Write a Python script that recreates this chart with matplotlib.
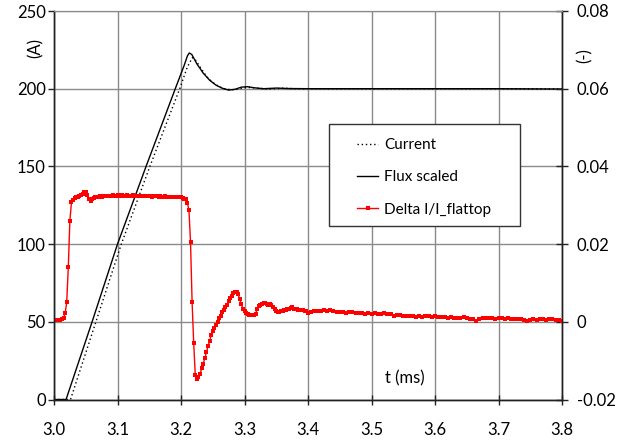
import numpy as np
import matplotlib
matplotlib.use("Agg")
import matplotlib.pyplot as plt
from matplotlib.patches import Rectangle

plt.rcParams["font.family"] = ["Lato", "DejaVu Sans"]

# ---- data -------------------------------------------------------------
# Flux (scaled), A
flux_t = [3.000, 3.019, 3.060, 3.100, 3.145, 3.191, 3.205, 3.210, 3.213, 3.217,
          3.225, 3.235, 3.245, 3.255, 3.265, 3.275, 3.285, 3.295, 3.305, 3.315,
          3.330, 3.350, 3.370, 3.400, 3.500, 3.600, 3.700, 3.800]
flux_a = [0, 0, 50, 100, 150, 200, 215, 221, 223, 222,
          216, 210, 205.5, 202.3, 200.3, 199.1, 199.6, 201.0, 201.3, 200.6,
          200.0, 200.4, 200.1, 200, 200, 200, 200, 199.8]

# Measured current, A
curr_t = [3.000, 3.026, 3.066, 3.106, 3.151, 3.198, 3.210, 3.218, 3.222, 3.230,
          3.240, 3.250, 3.260, 3.270, 3.280, 3.290, 3.300, 3.310, 3.320, 3.340,
          3.360, 3.380, 3.400, 3.500, 3.600, 3.700, 3.800]
curr_a = [0, 0, 50, 100, 150, 200, 214, 220, 219, 214,
          208, 204, 201.3, 199.8, 199.3, 199.8, 200.6, 200.8, 200.3, 199.8,
          200.3, 200, 200, 200, 200, 200, 199.8]

# Delta I / I_flattop in units of 1e-3, sampled every 2.5 us from 3.0 to 3.4 ms
delta_fast_permille = [
    0.5, 0.4, 0.5, 0.5, 0.4, 0.6, 0.9, 2.2, 5.0, 14.0,
    26.0, 30.8, 31.4, 31.8, 32.0, 32.2, 32.5, 32.6, 33.0, 33.4,
    33.3, 32.6, 31.6, 31.2, 31.6, 31.9, 32.1, 32.0, 32.2, 32.3,
    32.2, 32.4, 32.3, 32.5, 32.4, 32.3, 32.5, 32.6, 32.4, 32.5,
    32.6, 32.5, 32.4, 32.6, 32.5, 32.4, 32.6, 32.5, 32.3, 32.5,
    32.6, 32.4, 32.5, 32.4, 32.3, 32.5, 32.4, 32.3, 32.4, 32.5,
    32.3, 32.4, 32.2, 32.3, 32.4, 32.3, 32.2, 32.3, 32.1, 32.2,
    32.3, 32.2, 32.1, 32.2, 32.1, 32.0, 32.1, 32.2, 32.0, 32.1,
    32.0, 31.9, 31.7, 31.5, 30.6, 28.8, 20.5, 5.0, -5.5, -13.8,
    -14.8, -14.3, -13.5, -12.0, -10.8, -9.4, -7.9, -6.3, -5.0, -3.4,
    -2.3, -1.5, -0.7, 0.0, 0.9, 1.6, 2.4, 3.1, 3.7, 4.4,
    5.3, 6.0, 6.7, 7.3, 7.7, 7.7, 7.1, 5.8, 4.5, 3.4,
    2.7, 2.2, 1.9, 1.7, 1.7, 1.8, 1.7, 2.0, 3.4, 4.0,
    4.4, 4.7, 4.8, 4.8, 4.6, 4.4, 4.5, 4.2, 3.8, 3.2,
    2.8, 2.6, 2.6, 2.7, 2.8, 3.0, 3.1, 3.2, 3.4, 3.6,
    3.8, 3.4, 3.3, 3.2, 3.1, 3.1, 3.0, 3.0, 2.9, 2.8,
    2.2,
]
# Delta I / I_flattop in units of 1e-3, sampled every 5 us from 3.405 to 3.8 ms
delta_slow_permille = [
    2.6, 2.8, 2.9, 2.9, 3.0, 2.9, 3.0, 2.7, 2.6, 2.6,
    2.5, 2.3, 2.5, 2.4, 2.2, 2.3, 2.2, 2.1, 2.3, 2.0,
    2.2, 2.1, 2.0, 2.2, 1.9, 1.9, 1.6, 1.8, 1.7, 1.6,
    1.4, 1.5, 1.4, 1.3, 1.5, 1.2, 1.4, 1.5, 1.3, 1.4,
    1.3, 1.2, 1.3, 1.1, 1.2, 1.1, 1.0, 0.9, 1.2, 1.0,
    0.8, 0.6, 0.2, 0.8, 1.0, 0.9, 1.1, 0.9, 0.8, 1.0,
    0.9, 0.8, 0.9, 0.7, 0.8, 0.6, 0.7, 0.5, 0.3, 0.5,
    0.6, 0.5, 0.7, 0.6, 0.5, 0.7, 0.6, 0.4, 0.5, 0.3,
]

x_ticks = [3.0, 3.1, 3.2, 3.3, 3.4, 3.5, 3.6, 3.7, 3.8]
left_ticks = [0, 50, 100, 150, 200, 250]
right_ticks = [-0.02, 0.0, 0.02, 0.04, 0.06, 0.08]
right_labels = ["-0.02", "0", "0.02", "0.04", "0.06", "0.08"]

# ---- sample times for the delta trace --------------------------------
t_fast = 3.0 + 0.0025 * np.arange(len(delta_fast_permille))
t_slow = 3.405 + 0.005 * np.arange(len(delta_slow_permille))
delta_t = np.concatenate([t_fast, t_slow])
delta = np.concatenate([delta_fast_permille, delta_slow_permille]) * 1e-3

# ---- figure ------------------------------------------------------------
W, H = 619, 442
fig = plt.figure(figsize=(W / 100, H / 100), dpi=100)
ax = fig.add_axes([54 / W, (H - 399.5) / H, 508 / W, 388.5 / H])
ax2 = ax.twinx()

grid_c = "#8a8a8a"
ax.set_xlim(3.0, 3.8)
ax.set_ylim(0, 250)
ax2.set_ylim(-0.02, 0.08)
ax.set_xticks(x_ticks)
ax.set_xticklabels([f"{v:.1f}" for v in x_ticks])
ax.set_yticks(left_ticks)
ax2.set_yticks(right_ticks)
ax2.set_yticklabels(right_labels)
ax.grid(True, color=grid_c, lw=1.0)
ax.set_axisbelow(True)

for a in (ax, ax2):
    a.spines["top"].set_color(grid_c)
    for s in ("left", "right", "bottom"):
        a.spines[s].set_color("#222222")
        a.spines[s].set_linewidth(1.0)

ax.tick_params(axis="x", direction="inout", length=7, width=1, pad=13,
               labelsize=12, colors="#222222", labelcolor="black")
ax.tick_params(axis="y", direction="out", length=4, width=1, pad=2,
               labelsize=12, colors="#222222", labelcolor="black")
ax2.tick_params(axis="y", direction="inout", length=9, width=1, pad=6,
                labelsize=12, colors="#222222", labelcolor="black")

l_curr, = ax.plot(curr_t, curr_a, color="black", lw=1.0,
                  linestyle=(0, (1, 2)), label="Current")
l_flux, = ax.plot(flux_t, flux_a, color="black", lw=1.0, label="Flux scaled")
l_delta, = ax2.plot(delta_t, delta, color="#ff0000", lw=1.0, marker="s",
                    markersize=3.4, markeredgewidth=0, label="Delta I/I_flattop")

# legend box
box_l, box_r = (329 - 54) / 508, (520 - 54) / 508
box_t, box_b = (399.5 - 124) / 388.5, (399.5 - 226) / 388.5
ax2.add_patch(Rectangle((box_l, box_b), box_r - box_l, box_t - box_b,
                        transform=ax2.transAxes, facecolor="white",
                        edgecolor="#333333", lw=1.0, zorder=5))
leg = ax2.legend(handles=[l_curr, l_flux, l_delta], loc="upper left",
                 bbox_to_anchor=((357 - 54) / 508, (399.5 - 138) / 388.5),
                 frameon=False, fontsize=11, handlelength=1.4,
                 handletextpad=0.4, labelspacing=1.2, borderpad=0,
                 borderaxespad=0, numpoints=1)
leg.set_zorder(6)

ax.text(3.553, 13.8, "t (ms)", fontsize=12, ha="center", va="center")
fig.text(36 / W, 1 - 48 / H, "(A)", rotation=90, fontsize=12,
         ha="center", va="center")
fig.text(585 / W, 1 - 56 / H, "(-)", rotation=90, fontsize=12,
         ha="center", va="center")

fig.savefig("out.png", dpi=100)
